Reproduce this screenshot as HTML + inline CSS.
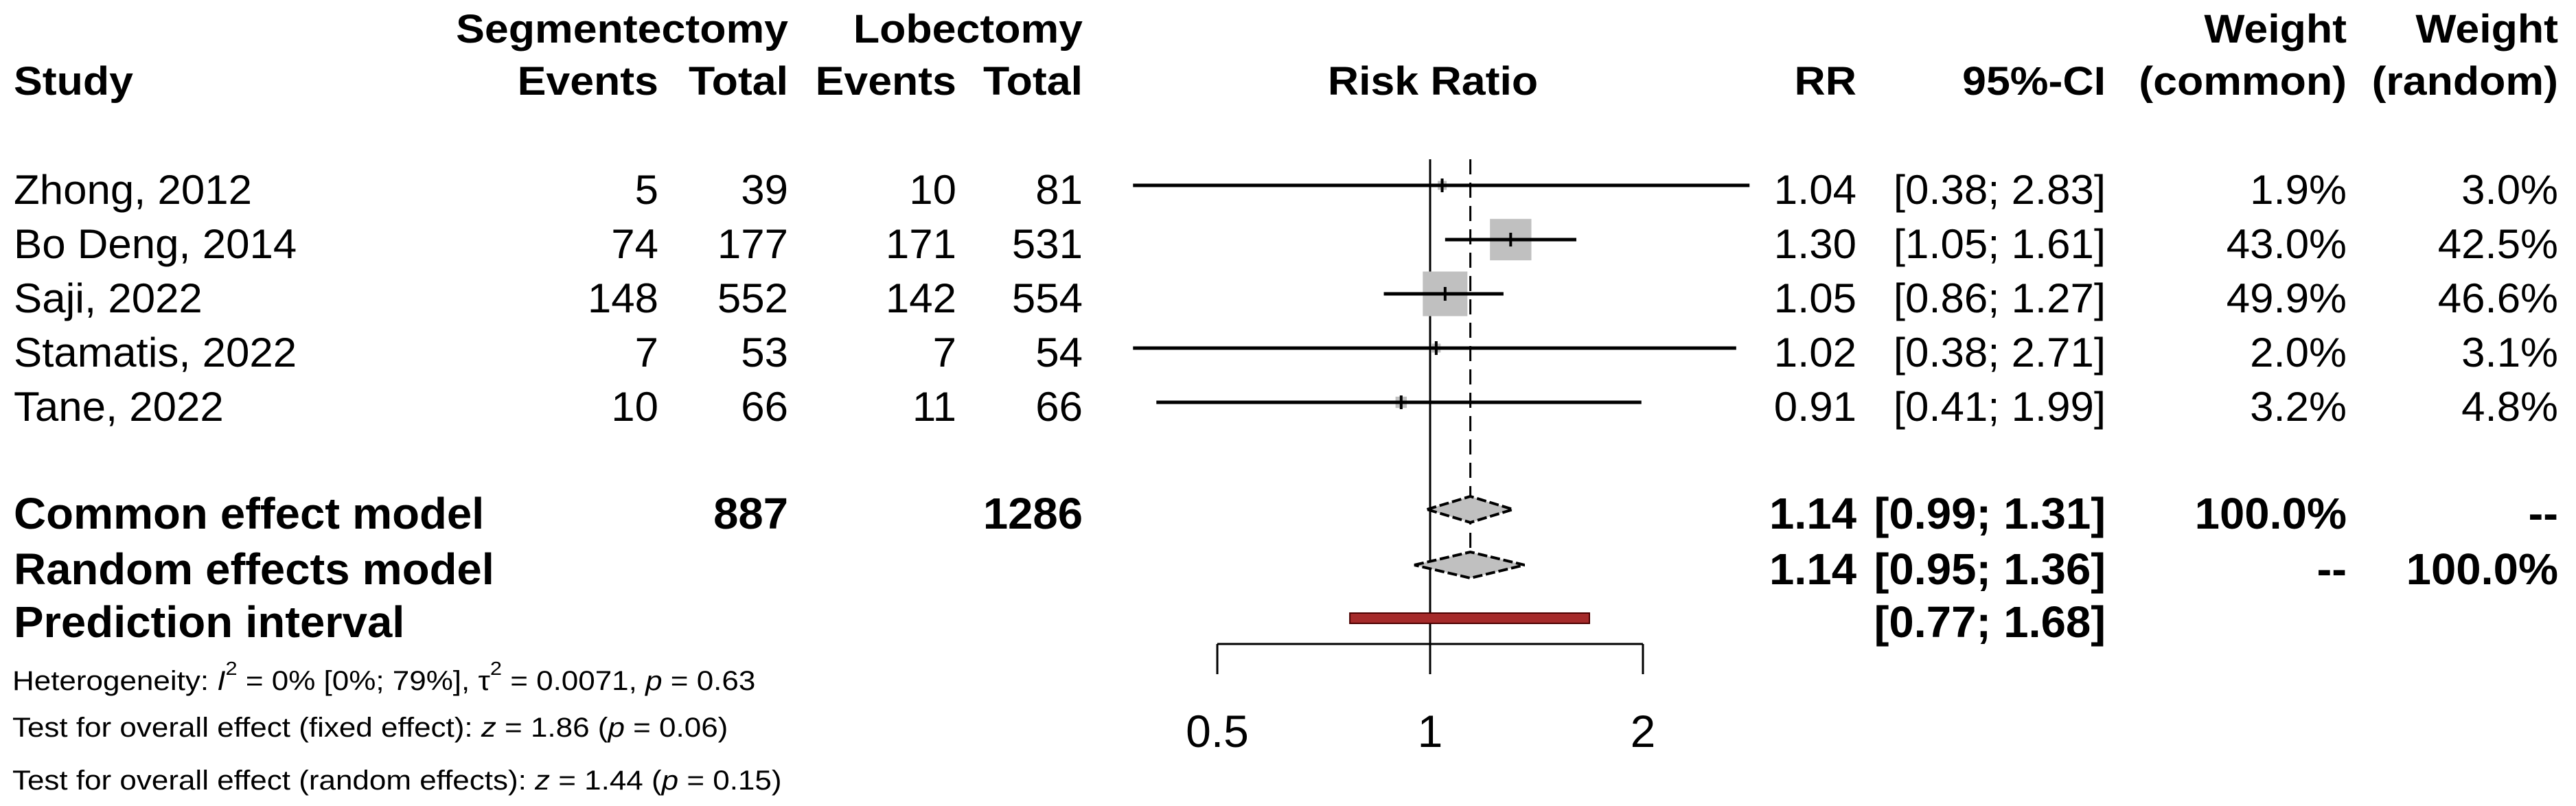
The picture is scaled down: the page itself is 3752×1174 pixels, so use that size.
<!DOCTYPE html>
<html><head><meta charset="utf-8"><style>
html,body{margin:0;padding:0;background:#fff;}
svg{display:block;}
text{font-family:"Liberation Sans",Arial,sans-serif;fill:#000;}
.h{font-weight:bold;font-size:58px;}
.r{font-size:60px;}
.b{font-weight:bold;font-size:64px;}
.s{font-size:40px;}
</style></head><body>
<svg id="chart" width="3752" height="1174" viewBox="0 0 3752 1174" xmlns="http://www.w3.org/2000/svg">
<g id="hetero">
<text class="s" x="18" y="1005" transform="translate(18,0) scale(1.1,1) translate(-18,0)">Heterogeneity: <tspan font-style="italic">I</tspan><tspan dy="-22" font-size="28">2</tspan><tspan dy="22"> = 0% [0%; 79%], τ</tspan><tspan dy="-22" font-size="28">2</tspan><tspan dy="22"> = 0.0071, </tspan><tspan font-style="italic">p</tspan> = 0.63</text>
<text class="s" x="18" y="1073" transform="translate(18,0) scale(1.1,1) translate(-18,0)">Test for overall effect (fixed effect): <tspan font-style="italic">z</tspan> = 1.86 (<tspan font-style="italic">p</tspan> = 0.06)</text>
<text class="s" x="18" y="1150" transform="translate(18,0) scale(1.1,1) translate(-18,0)">Test for overall effect (random effects): <tspan font-style="italic">z</tspan> = 1.44 (<tspan font-style="italic">p</tspan> = 0.15)</text>
</g>
</svg>
<script>
const studies = ["Zhong, 2012","Bo Deng, 2014","Saji, 2022","Stamatis, 2022","Tane, 2022"];
const segEvents = [5,74,148,7,10];
const segTotal = [39,177,552,53,66];
const lobEvents = [10,171,142,7,11];
const lobTotal = [81,531,554,54,66];
const rr = [1.04,1.30,1.05,1.02,0.91];
const ciLow = [0.38,1.05,0.86,0.38,0.41];
const ciHigh = [2.83,1.61,1.27,2.71,1.99];
const wCommon = [1.9,43.0,49.9,2.0,3.2];
const wRandom = [3.0,42.5,46.6,3.1,4.8];
const commonEst = [1.14,0.99,1.31];
const randomEst = [1.14,0.95,1.36];
const predInt = [0.77,1.68];
const totals = [887,1286];
const ticks = [0.5,1,2];
const tickLabels = ["0.5","1","2"];

const svg = document.getElementById('chart');
const NS = 'http://www.w3.org/2000/svg';
const X1 = 2083, PX = 447.2;
function xs(v){ return X1 + PX*Math.log(v); }
const rowY0 = 270, rowStep = 79;
function ys(i){ return rowY0 + rowStep*i; }

function txt(x,y,s,cls,anchor,sx,name){
  const t = document.createElementNS(NS,'text');
  t.setAttribute('x',x); t.setAttribute('y',y);
  t.setAttribute('class',cls);
  t.setAttribute('text-anchor',anchor);
  t.setAttribute('transform','translate('+x+',0) scale('+sx+',1) translate('+(-x)+',0)');
  t.textContent = s;
  
  
  svg.appendChild(t); return t;
}
function el(tag,attrs,name){
  const e = document.createElementNS(NS,tag);
  for(const k in attrs) e.setAttribute(k,attrs[k]);
  
  
  svg.appendChild(e); return e;
}
// headers
const HS = 1.08;
txt(1148,62,'Segmentectomy','h','end',HS,'header-segmentectomy');
txt(1577,62,'Lobectomy','h','end',HS,'header-lobectomy');
txt(3418,62,'Weight','h','end',HS,'header-weight-common');
txt(3726,62,'Weight','h','end',HS,'header-weight-random');
txt(20,138,'Study','h','start',HS,'header-study');
txt(959,138,'Events','h','end',HS,'header-seg-events');
txt(1148,138,'Total','h','end',HS,'header-seg-total');
txt(1393,138,'Events','h','end',HS,'header-lob-events');
txt(1577,138,'Total','h','end',HS,'header-lob-total');
txt(2087,138,'Risk Ratio','h','middle',HS,'header-risk-ratio');
txt(2704,138,'RR','h','end',HS,'header-rr');
txt(3067,138,'95%-CI','h','end',HS,'header-ci');
txt(3418,138,'(common)','h','end',HS,'header-common');
txt(3726,138,'(random)','h','end',HS,'header-random');

// reference lines
const yTop = 232;
el('line',{x1:xs(1),x2:xs(1),y1:yTop,y2:938,stroke:'#000','stroke-width':3},'null-effect-line');
el('line',{x1:xs(commonEst[0]),x2:xs(commonEst[0]),y1:yTop,y2:ys(0)+553-19,stroke:'#000','stroke-width':3,'stroke-dasharray':'22,12'},'common-effect-dashed-line');

const RS = 1.03;
for(let i=0;i<studies.length;i++){
  const y = ys(i), by = y+27;
  txt(20,by,studies[i],'r','start',RS,'study-name');
  txt(959,by,String(segEvents[i]),'r','end',RS,'seg-events');
  txt(1148,by,String(segTotal[i]),'r','end',RS,'seg-total');
  txt(1393,by,String(lobEvents[i]),'r','end',RS,'lob-events');
  txt(1577,by,String(lobTotal[i]),'r','end',RS,'lob-total');
  txt(2704,by,rr[i].toFixed(2),'r','end',RS,'rr-value');
  txt(3067,by,'['+ciLow[i].toFixed(2)+'; '+ciHigh[i].toFixed(2)+']','r','end',RS,'ci-value');
  txt(3418,by,wCommon[i].toFixed(1)+'%','r','end',RS,'weight-common');
  txt(3726,by,wRandom[i].toFixed(1)+'%','r','end',RS,'weight-random');
  const sz = Math.max(13, 92*Math.sqrt(wCommon[i]/100));
  el('rect',{x:xs(rr[i])-sz/2,y:y-sz/2,width:sz,height:sz,fill:'#c0c0c0'},'study-weight-square');
  el('line',{x1:xs(ciLow[i]),x2:xs(ciHigh[i]),y1:y,y2:y,stroke:'#000','stroke-width':5},'study-ci-line');
  el('line',{x1:xs(rr[i]),x2:xs(rr[i]),y1:y-10,y2:y+10,stroke:'#000','stroke-width':4},'study-point-estimate');
}

// summary rows
const yC = 742, yR = 823, yP = 900;
const BS = 1.02;
txt(20,yC+28,'Common effect model','b','start',BS,'common-effect-label');
txt(20,yR+28,'Random effects model','b','start',BS,'random-effects-label');
txt(20,yP+28,'Prediction interval','b','start',BS,'prediction-interval-label');
txt(1148,yC+28,String(totals[0]),'b','end',BS,'seg-total-sum');
txt(1577,yC+28,String(totals[1]),'b','end',BS,'lob-total-sum');
txt(2704,yC+28,commonEst[0].toFixed(2),'b','end',BS,'common-rr');
txt(3067,yC+28,'['+commonEst[1].toFixed(2)+'; '+commonEst[2].toFixed(2)+']','b','end',BS,'common-ci');
txt(3418,yC+28,'100.0%','b','end',BS,'common-weight-common');
txt(3726,yC+28,'--','b','end',BS,'common-weight-random');
txt(2704,yR+28,randomEst[0].toFixed(2),'b','end',BS,'random-rr');
txt(3067,yR+28,'['+randomEst[1].toFixed(2)+'; '+randomEst[2].toFixed(2)+']','b','end',BS,'random-ci');
txt(3418,yR+28,'--','b','end',BS,'random-weight-common');
txt(3726,yR+28,'100.0%','b','end',BS,'random-weight-random');
txt(3067,yP+28,'['+predInt[0].toFixed(2)+'; '+predInt[1].toFixed(2)+']','b','end',BS,'prediction-ci');

function diamond(est,y,name){
  const h=19;
  const pts=[[xs(est[1]),y],[xs(est[0]),y-h],[xs(est[2]),y],[xs(est[0]),y+h]].map(p=>p.join(',')).join(' ');
  el('polygon',{points:pts,fill:'#c0c0c0',stroke:'#000','stroke-width':4,'stroke-dasharray':'14,5'},name);
}
diamond(commonEst,yC,'common-effect-diamond');
diamond(randomEst,yR,'random-effects-diamond');
el('rect',{x:xs(predInt[0]),y:yP-7,width:xs(predInt[1])-xs(predInt[0]),height:15,fill:'#a52a2a',stroke:'#4a0000','stroke-width':2},'prediction-interval-bar');

// axis
el('line',{x1:xs(ticks[0]),x2:xs(ticks[ticks.length-1]),y1:938,y2:938,stroke:'#000','stroke-width':3},'x-axis-line');
for(let i=0;i<ticks.length;i++){
  el('line',{x1:xs(ticks[i]),x2:xs(ticks[i]),y1:938,y2:982,stroke:'#000','stroke-width':3},'x-axis-tick');
  txt(xs(ticks[i]),1088,tickLabels[i],'r','middle',1.0,'x-axis-tick-label').setAttribute('style','font-size:66px');
}
</script>
</body></html>
